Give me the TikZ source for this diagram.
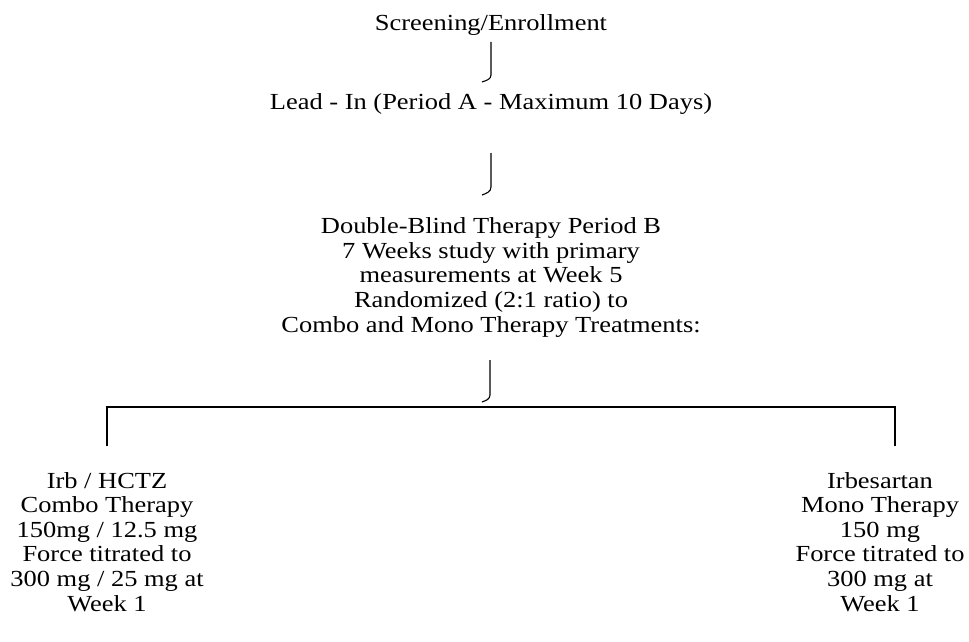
\documentclass[tikz,border=0pt]{standalone}
\usepackage{fontspec}
\setmainfont{Liberation Serif}[FakeStretch=1.15]
\begin{document}
\begin{tikzpicture}[x=1pt,y=-1pt,
  lbl/.style={inner sep=0pt,anchor=base,align=center,font=\fontsize{23}{24.6}\selectfont},
  link/.style={line width=1.1pt,black},
  hook/.style={line width=1.1pt,black}]
\useasboundingbox (0,0) rectangle (969,642);
\node[lbl] (scr) at (491,31) {Screening/Enrollment};
\node[lbl] (lead) at (491,110) {Lead - In (Period A - Maximum 10 Days)};
\node[lbl] (dbt) at (491,332) {Double-Blind Therapy Period B\\7 Weeks study with primary\\measurements at Week 5\\Randomized (2:1 ratio) to\\Combo and Mono Therapy Treatments:};
\node[lbl] (combo) at (107,611) {Irb / HCTZ\\Combo Therapy\\150mg / 12.5 mg\\Force titrated to\\300 mg / 25 mg at\\Week 1};
\node[lbl] (mono) at (880,611) {Irbesartan\\Mono Therapy\\150 mg\\Force titrated to\\300 mg at\\Week 1};
% hooks
\coordinate (h1a) at (491,42); \coordinate (h1b) at (491,75); \coordinate (h1c) at (482,82);
\coordinate (h2a) at (491,153); \coordinate (h2b) at (491,187); \coordinate (h2c) at (482,195);
\coordinate (h3a) at (490,360); \coordinate (h3b) at (490,395); \coordinate (h3c) at (482,402);
\draw[hook] (h1a) -- (h1b) to[out=270,in=20] (h1c);
\draw[hook] (h2a) -- (h2b) to[out=270,in=20] (h2c);
\draw[hook] (h3a) -- (h3b) to[out=270,in=20] (h3c);
% branch
\coordinate (bl) at (107,407); \coordinate (br) at (895,407);
\coordinate (blb) at (107,446); \coordinate (brb) at (895,446);
\draw[link] (blb) -- (bl) -- (br) -- (brb);
\end{tikzpicture}
\end{document}
